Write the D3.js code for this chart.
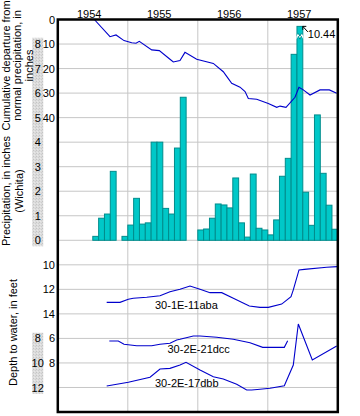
<!DOCTYPE html>
<html><head><meta charset="utf-8">
<script src="https://cdn.jsdelivr.net/npm/d3@7"></script>
<style>
body{margin:0;background:#fff}
svg{display:block}
text{font-family:"Liberation Sans",Arial,Helvetica,sans-serif;font-size:11px;fill:#000}
</style>
</head><body><svg id="c" width="360" height="416"></svg>
<script>
// ---------- DATA ----------
const years = [1954, 1955, 1956, 1957];
// Monthly precipitation at Wichita, inches, Jan 1954 .. Dec 1957 (null = no bar)
const precip = [
  null, null, null, null, null, null, 0.16, 0.90, 1.07, 2.81, null, 0.16,
  0.62, 1.71, 0.66, 0.71, 4.00, 4.00, 1.30, 1.07, 3.76, 5.83, null, null,
  0.42, 0.46, 0.90, 1.48, 1.44, 1.32, 2.54, 0.71, 0.13, 2.70, 0.49, 0.42,
  0.22, 0.83, 2.61, 3.34, 7.58, 10.44, 1.96, 0.61, 5.11, 2.73, 1.43, 0.45
];
const precipTicks = [0, 1, 2, 3, 4, 5, 6, 7, 8];
const precipBreakTop = 8.72;   // tallest bar is cut here
const precipBreakLabel = "10.44";

// Cumulative departure from normal precipitation (month index from Jan 1954, inches)
const depMonth = [6.26, 8.95, 9.98, 11.35, 12.67, 13.41, 13.97, 16.1, 17.4, 19.23, 19.8, 20.95, 21.8, 23.81,
  26.66, 28.37, 29.2, 29.81, 31.24, 32.1, 32.66, 34.1, 36.09, 37.53, 38.1, 39.12, 40.66, 41.34, 42.09,
  43.24, 44.95, 46.55, 47.81];
const depValue = [0, 7.0, 6.3, 8.6, 9.5, 9.7, 8.9, 12.4, 12.7, 16.2, 17.3, 16.7, 13.4, 16.2,
  17.9, 21.3, 24.0, 26.0, 27.6, 29.4, 32.2, 32.5, 34.2, 35.8, 35.3, 35.8, 31.7, 27.6, 28.7,
  30.8, 28.7, 28.7, 30.1];
const depTicks = [0, 10, 20, 30, 40];

// Depth to water, feet
const well1Name = "30-1E-11aba";
const well1Month = [8.38, 10.66, 12.09, 12.94, 15.24, 17.52, 19.23, 20.95, 22.66, 24.38, 26.09, 28.1, 30.09,
  32.83, 34.66, 36.09, 38.38, 39.98, 40.37, 41.35, 42.26, 46.1, 47.92];
const well1Depth = [13.06, 13.06, 12.81, 12.73, 12.65, 12.52, 12.19, 12.0, 11.73, 12.0, 12.27, 12.27, 12.73,
  13.36, 13.47, 13.47, 13.2, 12.6, 12.05, 10.42, 10.37, 10.2, 10.15];
const well1Ticks = [10, 12, 14];

const well2Name = "30-2E-21dcc";
const well2Month = [8.83, 10.37, 11.35, 13.53, 16.1, 17.52, 19.23, 20.38, 20.95, 23.23, 24.38, 27.24, 30.09,
  32.95, 35.13, 38.83, 39.41];
const well2Depth = [6.21, 6.21, 6.48, 6.6, 6.6, 6.48, 6.4, 6.13, 6.07, 5.8, 5.8, 5.91, 6.07,
  6.35, 6.73, 6.73, 6.19];
const well2Ticks = [6, 8];

const well3Name = "30-2E-17dbb";
const well3Month = [8.38, 12.09, 15.81, 17.52, 19.23, 20.95, 21.98, 24.38, 26.66, 28.37, 30.67, 32.38, 33.24,
  34.66, 36.38, 38.83, 40.37, 41.23, 43.63, 47.81];
const well3Depth = [11.88, 11.58, 11.17, 10.5, 10.44, 10.17, 9.95, 10.58, 11.12, 11.31, 11.74, 12.21, 12.21,
  12.15, 12.07, 11.86, 10.17, 6.83, 9.76, 8.62];
const well3Ticks = [8, 10, 12];

const titleDep = ["Cumulative departure from", "normal precipitation, in", "inches"];
const titlePrecip = ["Precipitation, in inches", "(Wichita)"];
const titleWell = "Depth to water, in feet";

(function () {
// ---------- LAYOUT ----------
const pL = 57.8, pR = 337.8, pT = 19.5, pB = 412;
const rowH = (pB - pT) / 16;
const FONT = '"Liberation Sans",Arial,Helvetica,sans-serif';
const fmt = d3.format("d");

const x = d3.scaleLinear().domain([0, 48]).range([pL, pR]);
const yDep = d3.scaleLinear().domain([0, 40]).range([pT, pT + 4 * rowH]);
const yPre = d3.scaleLinear().domain([0, 9]).range([pT + 9 * rowH, pT]);
const yW1 = d3.scaleLinear().domain([10, 14]).range([pT + 10 * rowH, pT + 12 * rowH]);
const yW2 = d3.scaleLinear().domain([6, 8]).range([pT + 13 * rowH, pT + 14 * rowH]);
const yW3 = d3.scaleLinear().domain([8, 12]).range([pT + 13 * rowH, pT + 15 * rowH]);

const svg = d3.select("#c");
const gridC = "#c6c6c6", barFill = "#00c8c8", barStroke = "#008c8c", lineC = "#0000cc";

// stipple pattern for gray label columns
const defs = svg.append("defs");
const pat = defs.append("pattern").attr("id", "stip").attr("width", 3).attr("height", 3)
  .attr("patternUnits", "userSpaceOnUse");
pat.append("rect").attr("width", 3).attr("height", 3).attr("fill", "#dcdcdc");
pat.append("rect").attr("x", 0).attr("y", 0).attr("width", 1).attr("height", 1).attr("fill", "#c4c4c4");
pat.append("rect").attr("x", 2).attr("y", 1).attr("width", 1).attr("height", 1).attr("fill", "#cdcdcd");
pat.append("rect").attr("x", 1).attr("y", 2).attr("width", 1).attr("height", 1).attr("fill", "#e8e8e8");

// gray columns
svg.append("rect").attr("x", 32.3).attr("width", 11)
  .attr("y", yPre(8) - 6.3).attr("height", yPre(0) - yPre(8) + 12.3).attr("fill", "url(#stip)");
svg.append("rect").attr("x", 32.3).attr("width", 11)
  .attr("y", yW3(8) - 5.7).attr("height", yW3(12) - yW3(8) + 12).attr("fill", "url(#stip)");

// gridlines
const grid = svg.append("g").attr("stroke", gridC).attr("stroke-width", 1);
d3.range(1, 16).forEach(k => {
  const yy = pT + k * rowH;
  grid.append("line").attr("x1", pL).attr("x2", pR).attr("y1", yy).attr("y2", yy);
});
[12, 24, 36].forEach(m => {
  grid.append("line").attr("x1", x(m)).attr("x2", x(m)).attr("y1", pT).attr("y2", pB);
});

// bars
const bars = precip.map((v, i) => ({ i, v })).filter(d => d.v != null);
svg.append("g").selectAll("rect").data(bars).join("rect")
  .attr("x", d => x(d.i))
  .attr("width", d => x(d.i + 1) - x(d.i))
  .attr("y", d => yPre(Math.min(d.v, precipBreakTop)))
  .attr("height", d => yPre(0) - yPre(Math.min(d.v, precipBreakTop)))
  .attr("fill", barFill).attr("stroke", barStroke).attr("stroke-width", 1);

// break mark on the cut bar
const cut = bars.find(d => d.v > precipBreakTop);
if (cut) {
  const x0 = x(cut.i) - 0.5, x1 = x(cut.i + 1) + 0.5, w = x1 - x0;
  const yb = yPre(8.3);
  const zig = (off) => d3.range(0, 5).map(k => [x0 + k * w / 4, yb + off + (k % 2 ? -2 : 1)]);
  const upper = zig(-1.5), lower = zig(1.5);
  svg.append("path").attr("d", "M" + upper.map(p => p.join(",")).join("L") + "L" +
      lower.slice().reverse().map(p => p.join(",")).join("L") + "Z")
    .attr("fill", "#fff");
  svg.append("path").attr("d", d3.line()(upper.slice(1, 4))).attr("fill", "none").attr("stroke", barStroke);
  svg.append("path").attr("d", d3.line()(lower.slice(1, 4))).attr("fill", "none").attr("stroke", barStroke);
  // arrow + label
  const ax = x(cut.i + 1), ay = yPre(precipBreakTop);
  svg.append("path").attr("d", `M${ax + 5},${ay + 5.5}L${ax},${ay}M${ax},${ay}L${ax + 3.5},${ay}M${ax},${ay}L${ax},${ay + 3.5}`)
    .attr("stroke", "#000").attr("stroke-width", 1).attr("fill", "none");
  svg.append("text").attr("x", ax + 5).attr("y", ay + 11.8).text(precipBreakLabel);
}

// lines
const mkLine = (ys) => d3.line().x(d => x(d[0])).y(d => ys(d[1]));
function drawLine(months, vals, ys) {
  svg.append("path").datum(months.map((m, i) => [m, vals[i]]))
    .attr("d", mkLine(ys)).attr("fill", "none").attr("stroke", lineC).attr("stroke-width", 1.1);
}
drawLine(depMonth, depValue, yDep);
drawLine(well1Month, well1Depth, yW1);
drawLine(well2Month, well2Depth, yW2);
drawLine(well3Month, well3Depth, yW3);

// well labels
svg.append("text").attr("x", 155).attr("y", yW1(13.6)).text(well1Name);
svg.append("text").attr("x", 167.5).attr("y", yW2(7.2)).text(well2Name);
svg.append("text").attr("x", 155).attr("y", yW3(12)).text(well3Name);

// frame
svg.append("rect").attr("x", pL).attr("y", pT).attr("width", pR - pL).attr("height", pB - pT)
  .attr("fill", "none").attr("stroke", "#000").attr("stroke-width", 2.5);

// axes
function styleAxis(g) {
  g.select(".domain").remove();
  g.attr("font-family", FONT).attr("font-size", 11);
  g.selectAll("text").attr("fill", "#000");
}
svg.append("g").attr("transform", `translate(0,${pT})`)
  .call(d3.axisTop(x).tickValues(years.map((y, i) => 12 * i + 5.3)).tickFormat((d, i) => years[i])
    .tickSize(0).tickPadding(2))
  .call(styleAxis);

const numAxis = (scale, ticks) => {
  svg.append("g").attr("transform", `translate(${pL},0)`)
    .call(d3.axisLeft(scale).tickValues(ticks).tickFormat(fmt).tickSize(0).tickPadding(pL - 55))
    .call(styleAxis);
};
numAxis(yDep, depTicks);
numAxis(yW1, well1Ticks);
numAxis(yW2, well2Ticks);
const grayAxis = (scale, ticks) => {
  const g = svg.append("g").attr("transform", `translate(37.7,0)`)
    .call(d3.axisLeft(scale).tickValues(ticks).tickFormat(fmt).tickSize(0).tickPadding(0))
    .call(styleAxis);
  g.selectAll("text").attr("text-anchor", "middle").attr("x", 0);
};
grayAxis(yPre, precipTicks);
grayAxis(yW3, well3Ticks);

// axis titles
function vtitle(lines, cy, baselines) {
  lines.forEach((t, i) => {
    svg.append("text").attr("transform", `translate(${baselines[i]},${cy}) rotate(-90)`)
      .attr("text-anchor", "middle").text(t);
  });
}
vtitle(titleDep, 65.5, [10.2, 21.4, 32.6]);
vtitle(titlePrecip, 191, [9.8, 22.8]);
vtitle([titleWell], 332.5, [17]);
})();
</script>
</body></html>
